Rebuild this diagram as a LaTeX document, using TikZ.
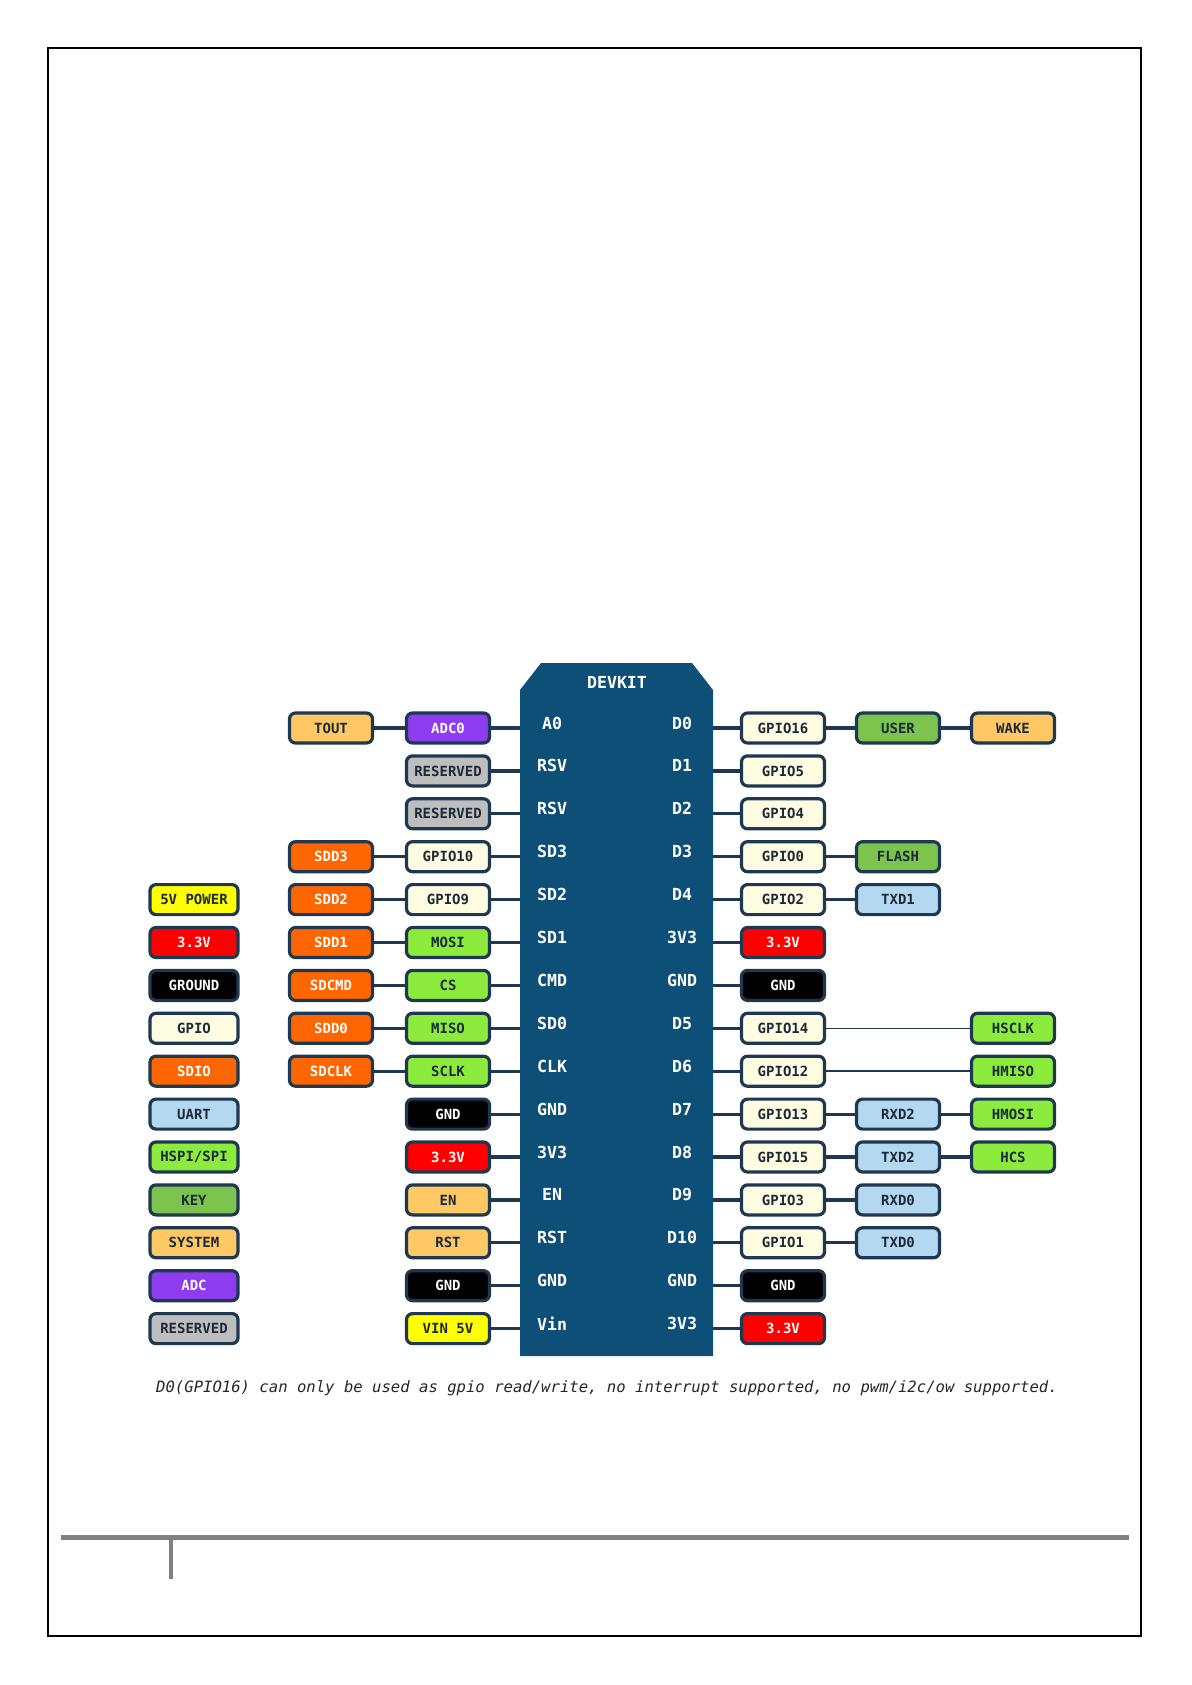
\documentclass[tikz,border=0pt]{standalone}
\usepackage{fontspec}
\setmonofont{DejaVu Sans Mono}
\usepackage{tikz}
\usetikzlibrary{positioning, calc}

\definecolor{boardblue}{HTML}{0E4F78}
\definecolor{edgeblue}{HTML}{1D3850}
\definecolor{textdark}{HTML}{1B2A38}
\definecolor{footgray}{HTML}{808080}
\definecolor{sysorange}{HTML}{FFC864}
\definecolor{adcpurple}{HTML}{8E3CF0}
\definecolor{rsvgray}{HTML}{BEBEBE}
\definecolor{sdioorange}{HTML}{FF6600}
\definecolor{gpiocream}{HTML}{FFFDE1}
\definecolor{spigreen}{HTML}{8CEB3C}
\definecolor{keygreen}{HTML}{7DC44E}
\definecolor{uartblue}{HTML}{B4D8F0}
\definecolor{pwrred}{HTML}{FF0000}
\definecolor{vinyellow}{HTML}{FFFF00}

\tikzset{
  pinbox/.style={draw=edgeblue, line width=1.6pt, rounded corners=3pt,
    minimum width=41.5pt, minimum height=15pt, inner sep=0pt, text=textdark,
    font={\ttfamily\bfseries\fontsize{7}{8}\selectfont}},
  legendbox/.style={pinbox, minimum width=44pt},
  fsys/.style={fill=sysorange},
  fadc/.style={fill=adcpurple, text=white},
  frsv/.style={fill=rsvgray},
  fsdio/.style={fill=sdioorange, text=white},
  fgpio/.style={fill=gpiocream},
  fspi/.style={fill=spigreen},
  fkey/.style={fill=keygreen},
  fuart/.style={fill=uartblue},
  fpwr/.style={fill=pwrred, text=white},
  fgnd/.style={fill=black, text=white},
  fvin/.style={fill=vinyellow},
  wire/.style={draw=edgeblue, line width=1.6pt},
  thinwire/.style={draw=edgeblue, line width=0.8pt},
  boardtext/.style={text=white, inner sep=0pt,
    font={\ttfamily\bfseries\fontsize{8.3}{9}\selectfont}},
  note/.style={text=black!85, inner sep=0pt,
    font={\ttfamily\itshape\fontsize{7.8}{9}\selectfont}}
}

\begin{document}
\begin{tikzpicture}[x=0.5pt, y=-0.5pt]
  \useasboundingbox (0,0) rectangle (1192,1685);

  % column centres and rows
  \def\xLeg{194}
  \def\xA{331}
  \def\xB{448}
  \def\xC{783}
  \def\xD{898}
  \def\xE{1013}
  \def\yTop{728}
  \def\dy{42.9}

  % page frame
  \draw[line width=0.6pt] (48,48) rectangle (1141,1636);

  % footer rule
  \draw[footgray, line width=2.5pt] (61,1537) -- (1129,1537);
  \draw[footgray, line width=1.8pt] (171,1538) -- (171,1579);

  % board
  \fill[boardblue] (520,690) -- (541,663) -- (692,663) -- (713,690)
    -- (713,1356) -- (520,1356) -- cycle;
  \coordinate (brdL) at (520,0);
  \coordinate (brdR) at (713,0);
  \node[boardtext] (devkit) at (617,682) {DEVKIT};

  % board pin names
  \foreach \i/\l/\r in {1/A0/D0, 2/RSV/D1, 3/RSV/D2, 4/SD3/D3, 5/SD2/D4,
      6/SD1/3V3, 7/CMD/GND, 8/SD0/D5, 9/CLK/D6, 10/GND/D7, 11/3V3/D8,
      12/EN/D9, 13/RST/D10, 14/GND/GND, 15/Vin/3V3} {
    \node[boardtext] (pl\i) at (552, {\yTop+\dy*(\i-1)-5}) {\l};
    \node[boardtext] (pr\i) at (682, {\yTop+\dy*(\i-1)-5}) {\r};
  }

  % left side, next to the board
  \foreach \i/\t/\s in {1/ADC0/fadc, 2/RESERVED/frsv, 3/RESERVED/frsv,
      4/GPIO10/fgpio, 5/GPIO9/fgpio, 6/MOSI/fspi, 7/CS/fspi, 8/MISO/fspi,
      9/SCLK/fspi, 10/GND/fgnd, 11/3.3V/fpwr, 12/EN/fsys, 13/RST/fsys,
      14/GND/fgnd, 15/VIN 5V/fvin} {
    \node[pinbox, \s] (lb\i) at (\xB, {\yTop+\dy*(\i-1)}) {\t};
    \draw[wire] (lb\i.east) -- (lb\i.east -| brdL);
  }

  % left side, outer column
  \foreach \i/\t/\s in {1/TOUT/fsys, 4/SDD3/fsdio, 5/SDD2/fsdio,
      6/SDD1/fsdio, 7/SDCMD/fsdio, 8/SDD0/fsdio, 9/SDCLK/fsdio} {
    \node[pinbox, \s] (la\i) at (\xA, {\yTop+\dy*(\i-1)}) {\t};
    \draw[wire] (la\i.east) -- (lb\i.west);
  }

  % right side, next to the board
  \foreach \i/\t/\s in {1/GPIO16/fgpio, 2/GPIO5/fgpio, 3/GPIO4/fgpio,
      4/GPIO0/fgpio, 5/GPIO2/fgpio, 6/3.3V/fpwr, 7/GND/fgnd, 8/GPIO14/fgpio,
      9/GPIO12/fgpio, 10/GPIO13/fgpio, 11/GPIO15/fgpio, 12/GPIO3/fgpio,
      13/GPIO1/fgpio, 14/GND/fgnd, 15/3.3V/fpwr} {
    \node[pinbox, \s] (rc\i) at (\xC, {\yTop+\dy*(\i-1)}) {\t};
    \draw[wire] (rc\i.west -| brdR) -- (rc\i.west);
  }

  % right side, second column
  \foreach \i/\t/\s in {1/USER/fkey, 4/FLASH/fkey, 5/TXD1/fuart,
      10/RXD2/fuart, 11/TXD2/fuart, 12/RXD0/fuart, 13/TXD0/fuart} {
    \node[pinbox, \s] (rd\i) at (\xD, {\yTop+\dy*(\i-1)}) {\t};
    \draw[wire] (rc\i.east) -- (rd\i.west);
  }

  % right side, third column
  \foreach \i/\t/\s in {1/WAKE/fsys, 8/HSCLK/fspi, 9/HMISO/fspi,
      10/HMOSI/fspi, 11/HCS/fspi}
    \node[pinbox, \s] (re\i) at (\xE, {\yTop+\dy*(\i-1)}) {\t};

  \draw[wire] (rd1.east) -- (re1.west);
  \draw[wire] (rd10.east) -- (re10.west);
  \draw[wire] (rd11.east) -- (re11.west);
  \draw[thinwire] (rc8.east) -- (re8.west);
  \draw[thinwire] (rc9.east) -- (re9.west);

  % legend
  \foreach \i/\t/\s in {5/5V POWER/fvin, 6/3.3V/fpwr, 7/GROUND/fgnd,
      8/GPIO/fgpio, 9/SDIO/fsdio, 10/UART/fuart, 11/{HSPI/SPI}/fspi,
      12/KEY/fkey, 13/SYSTEM/fsys, 14/ADC/fadc, 15/RESERVED/frsv}
    \node[legendbox, \s] (lg\i) at (\xLeg, {\yTop+\dy*(\i-1)}) {\t};

  % footnote
  \node[note] (d0note) at (607,1388)
    {D0(GPIO16) can only be used as gpio read/write, no interrupt supported, no pwm/i2c/ow supported.};

\end{tikzpicture}
\end{document}
